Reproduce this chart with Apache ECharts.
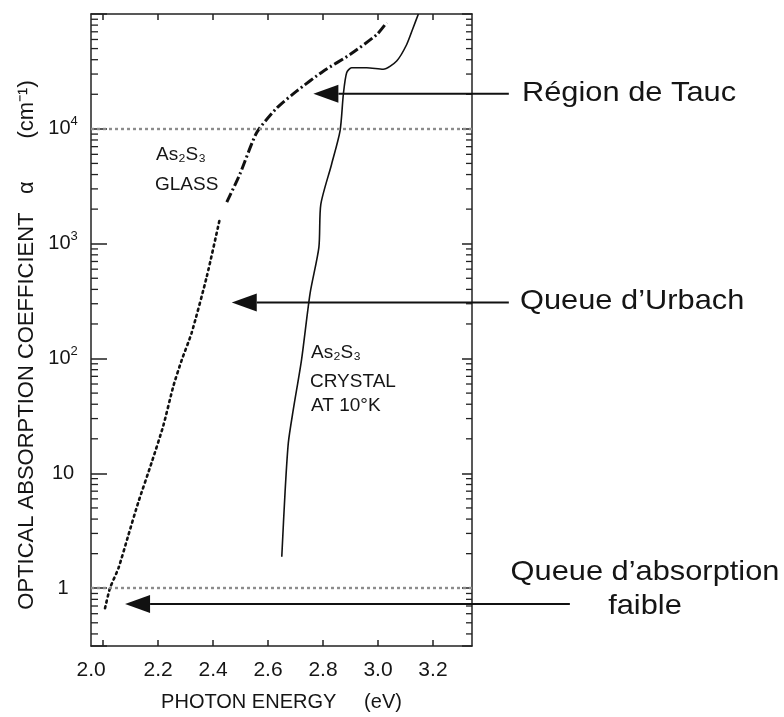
<!DOCTYPE html>
<html><head><meta charset="utf-8">
<script src="https://cdn.jsdelivr.net/npm/echarts@6/dist/echarts.min.js"></script>
<style>html,body{margin:0;padding:0;background:#fff}#c{width:784px;height:717px}</style>
</head><body><div id="c"></div>
<script>
// ---- axis ranges / ticks ----
const X_MIN = 1.956, X_MAX = 3.342;
const Y_MIN = 0.314, Y_MAX = 100000;
const xTickValues = [2.0, 2.2, 2.4, 2.6, 2.8, 3.0, 3.2];
const yDecadeLabels = {1: '{n|1}', 10: '{n|10}', 100: '{n|10}{s|2}', 1000: '{n|10}{s|3}', 10000: '{n|10}{s|4}'};

// ---- As2S3 glass (eV, cm^-1) ----
const glassLowEnergy = [2.007, 2.025, 2.056, 2.092, 2.128, 2.177, 2.219, 2.256, 2.286, 2.322, 2.377, 2.425];
const glassLowAlpha  = [0.67, 1.0, 1.5, 2.9, 5.6, 12.5, 26, 58, 97, 167, 515, 1660];
const glassHighEnergy = [2.45, 2.498, 2.559, 2.632, 2.704, 2.801, 2.898, 2.995, 3.031];
const glassHighAlpha  = [2300, 4050, 9300, 15200, 21300, 31800, 44300, 66000, 84000];

// ---- As2S3 crystal at 10 K ----
const crystalEnergy = [2.65, 2.662, 2.674, 2.692, 2.722, 2.753, 2.785, 2.792, 2.831, 2.862, 2.874, 2.886, 2.904, 2.959, 3.019, 3.068, 3.104, 3.128, 3.147];
const crystalAlpha  = [1.88, 6.9, 18.6, 36, 98, 370, 930, 2200, 4900, 9600, 20000, 30800, 34000, 34000, 33000, 39000, 54000, 76000, 100000];

// ---- reference levels & arrows (annotation): [fromE, fromAlpha, tipE, tipAlpha] ----
const refLevels = [10000, 1];
const arrowTauc   = [3.476, 20200, 2.765, 20200];
const arrowUrbach = [3.476, 307,   2.468, 307];
const arrowFaible = [3.698, 0.73,  2.080, 0.73];

const pair = (xs, ys) => xs.map((x, i) => [x, ys[i]]);

const minorTickVals = [];
for (let d = -1; d <= 4; d++) {
  for (let k = 2; k <= 9; k++) {
    const v = +(k * Math.pow(10, d)).toPrecision(6);
    if (v >= Y_MIN && v <= Y_MAX) minorTickVals.push([X_MIN, v]);
  }
}

const FONT = 'Liberation Sans, Arial, sans-serif';
const INK = '#151515';

const chart = echarts.init(document.getElementById('c'));
const axisLine = {show: true, lineStyle: {color: '#222', width: 1.5}};

chart.setOption({
  animation: false,
  backgroundColor: '#fff',
  grid: {left: 91, right: 312, top: 14, bottom: 69, containLabel: false},
  xAxis: [{
    type: 'value', min: X_MIN, max: X_MAX, position: 'bottom',
    axisLine: axisLine, splitLine: {show: false},
    axisTick: {inside: true, length: 6, customValues: xTickValues, lineStyle: {color: '#222', width: 1.5}},
    axisLabel: {customValues: xTickValues, margin: 14, fontSize: 21, color: INK, fontFamily: FONT,
      formatter: v => Math.abs(v - 2) < 1e-6 ? '{a|2.0}' : v.toFixed(1),
      rich: {a: {fontSize: 21, color: INK, fontFamily: FONT, padding: [0, 24, 0, 0]}}},
    name: 'PHOTON ENERGY     (eV)', nameLocation: 'middle', nameGap: 46,
    nameTextStyle: {fontSize: 20, color: INK, fontFamily: FONT}
  }, {
    type: 'value', min: X_MIN, max: X_MAX, position: 'top',
    axisLine: axisLine, splitLine: {show: false},
    axisTick: {inside: true, length: 6, customValues: xTickValues, lineStyle: {color: '#222', width: 1.5}},
    axisLabel: {show: false}
  }],
  yAxis: [{
    type: 'log', logBase: 10, min: Y_MIN, max: Y_MAX, position: 'left',
    axisLine: axisLine, splitLine: {show: false}, minorTick: {show: false},
    axisTick: {inside: true, length: 16, lineStyle: {color: '#222', width: 1.5}},
    axisLabel: {margin: 28, align: 'center', color: INK, fontFamily: FONT,
      formatter: v => { const k = Math.round(v); return (Math.abs(v - k) < 1e-6 && yDecadeLabels[k]) ? yDecadeLabels[k] : ''; },
      rich: {n: {fontSize: 20, lineHeight: 28, color: INK, fontFamily: FONT},
             s: {fontSize: 13, lineHeight: 12, verticalAlign: 'top', color: INK, fontFamily: FONT}}}
  }, {
    type: 'log', logBase: 10, min: Y_MIN, max: Y_MAX, position: 'right',
    axisLine: axisLine, splitLine: {show: false},
    axisTick: {inside: true, length: 10, lineStyle: {color: '#222', width: 1.5}},
    axisLabel: {show: false}
  }],
  series: [{
    type: 'custom', name: 'minorTicks', silent: true, z: 3,
    data: minorTickVals,
    renderItem: (params, api) => {
      const v = api.value(1);
      const l = api.coord([X_MIN, v]);
      const r = api.coord([X_MAX, v]);
      return {type: 'group', children: [
        {type: 'line', shape: {x1: l[0], y1: l[1], x2: l[0] + 7, y2: l[1]}, style: {stroke: '#222', lineWidth: 1.3}},
        {type: 'line', shape: {x1: r[0] - 6, y1: r[1], x2: r[0], y2: r[1]}, style: {stroke: '#222', lineWidth: 1.3}}
      ]};
    }
  }, {
    type: 'line', name: 'glassLow', data: pair(glassLowEnergy, glassLowAlpha),
    showSymbol: false, smooth: 0.2,
    lineStyle: {color: '#111', width: 2.6, type: [2, 4], cap: 'round'},
    markLine: {silent: true, symbol: 'none', label: {show: false},
      lineStyle: {color: '#8c8c8c', width: 2.4, type: [3, 3]},
      data: refLevels.map(v => ({yAxis: v}))}
  }, {
    type: 'line', name: 'glassHigh', data: pair(glassHighEnergy, glassHighAlpha),
    showSymbol: false, smooth: 0.2,
    lineStyle: {color: '#111', width: 3, type: [10, 3, 2, 3]}
  }, {
    type: 'line', name: 'crystal', data: pair(crystalEnergy, crystalAlpha),
    showSymbol: false, smooth: 0.25,
    lineStyle: {color: '#111', width: 1.6}
  }, {
    type: 'custom', name: 'arrows', silent: true, clip: false, z: 5,
    data: [arrowTauc, arrowUrbach, arrowFaible],
    renderItem: (params, api) => {
      const p0 = api.coord([api.value(0), api.value(1)]);
      const p1 = api.coord([api.value(2), api.value(3)]);
      const dx = p1[0] - p0[0], dy = p1[1] - p0[1];
      const len = Math.hypot(dx, dy) || 1;
      const ux = dx / len, uy = dy / len;
      const headLen = 25, half = 9;
      const bx = p1[0] - ux * headLen, by = p1[1] - uy * headLen;
      return {type: 'group', children: [
        {type: 'line', shape: {x1: p0[0], y1: p0[1], x2: bx, y2: by}, style: {stroke: '#111', lineWidth: 2}},
        {type: 'polygon', shape: {points: [[p1[0], p1[1]], [bx - uy * half, by + ux * half], [bx + uy * half, by - ux * half]]}, style: {fill: '#111'}}
      ]};
    }
  }],
  graphic: [
    {type: 'text', x: 27, y: 345, rotation: Math.PI / 2,
      style: {text: 'OPTICAL ABSORPTION COEFFICIENT   α       (cm⁻¹)', fontSize: 22, fontFamily: FONT, fill: INK, textAlign: 'center', textVerticalAlign: 'middle'}},
    {type: 'text', x: 156, y: 155, style: {text: 'As₂S₃', fontSize: 19, fontFamily: FONT, fill: INK, textVerticalAlign: 'middle'}},
    {type: 'text', x: 155, y: 185, style: {text: 'GLASS', fontSize: 19, fontFamily: FONT, fill: INK, textVerticalAlign: 'middle'}},
    {type: 'text', x: 311, y: 353, style: {text: 'As₂S₃', fontSize: 19, fontFamily: FONT, fill: INK, textVerticalAlign: 'middle'}},
    {type: 'text', x: 310, y: 382, style: {text: 'CRYSTAL', fontSize: 19, fontFamily: FONT, fill: INK, textVerticalAlign: 'middle'}},
    {type: 'text', x: 311, y: 406, style: {text: 'AT 10°K', fontSize: 19, fontFamily: FONT, fill: INK, textVerticalAlign: 'middle'}},
    {type: 'text', x: 522, y: 93, scaleX: 1.1, style: {text: 'Région de Tauc', fontSize: 28, fontFamily: FONT, fill: INK, textVerticalAlign: 'middle'}},
    {type: 'text', x: 520, y: 301, scaleX: 1.1, style: {text: 'Queue d’Urbach', fontSize: 28, fontFamily: FONT, fill: INK, textVerticalAlign: 'middle'}},
    {type: 'text', x: 645, y: 572, scaleX: 1.1, style: {text: 'Queue d’absorption', fontSize: 28, fontFamily: FONT, fill: INK, textAlign: 'center', textVerticalAlign: 'middle'}},
    {type: 'text', x: 645, y: 606, scaleX: 1.1, style: {text: 'faible', fontSize: 28, fontFamily: FONT, fill: INK, textAlign: 'center', textVerticalAlign: 'middle'}}
  ]
});
</script>
</body></html>
